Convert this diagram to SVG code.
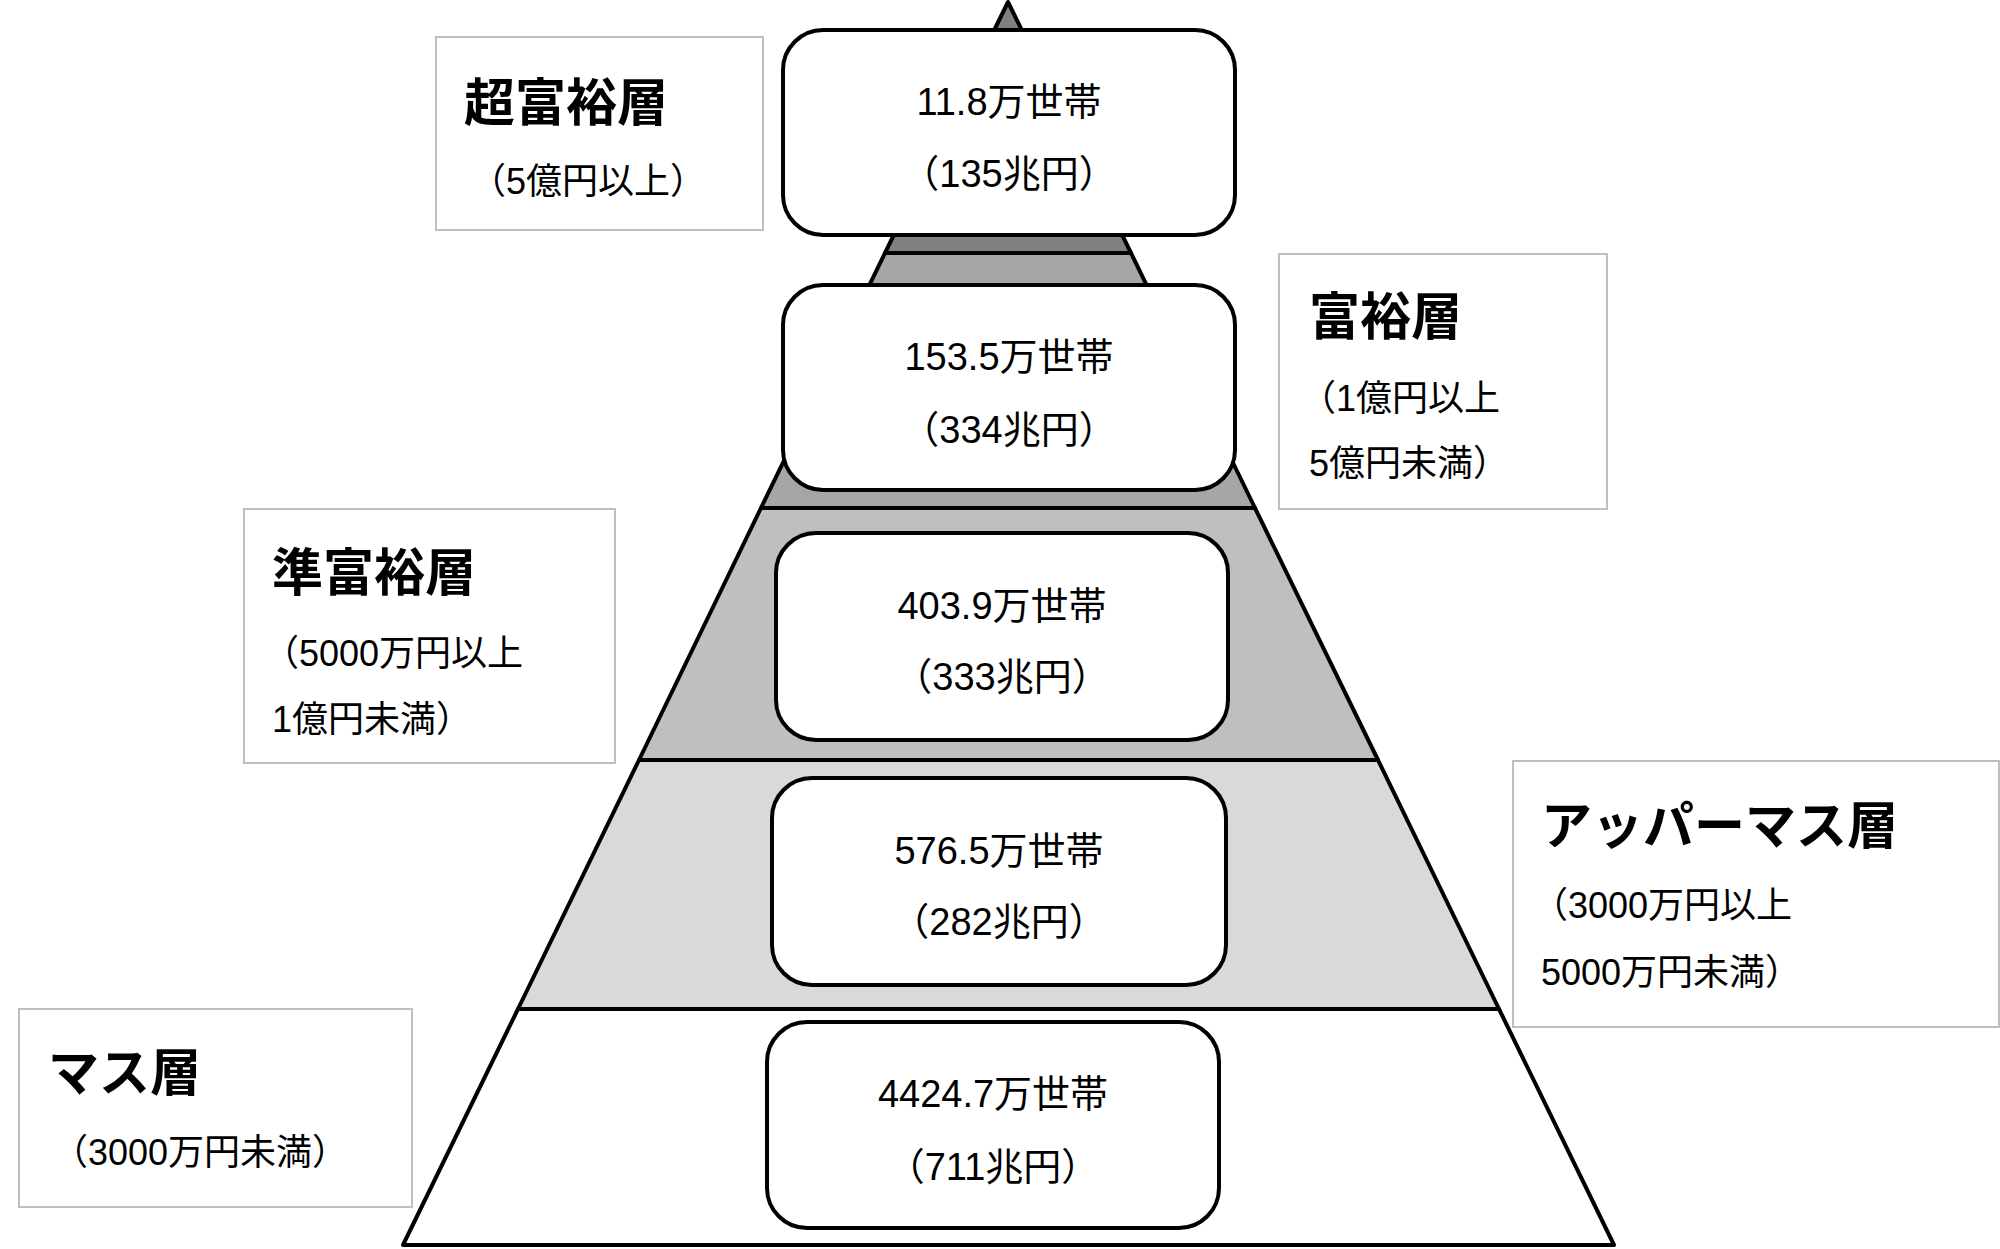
<svg xmlns="http://www.w3.org/2000/svg" width="2000" height="1249" viewBox="0 0 2000 1249">
<style>
.t{stroke:#000;stroke-width:4;stroke-linejoin:round}
.n{fill:#fff;stroke:#000;stroke-width:4}
.l{fill:#fff;stroke:#bfbfbf;stroke-width:2}
text{font-family:"Liberation Sans","Noto Sans CJK JP",sans-serif;fill:#000}
.h{font-size:51px;font-weight:bold}
.s{font-size:36px}
.v{font-size:38px;text-anchor:middle}
</style>
<rect width="2000" height="1249" fill="#fff"/>
<g id="pyramid">
<polygon class="t" fill="#808080" points="1008,2 885,253 1131,253"/>
<polygon class="t" fill="#a6a6a6" points="885,253 1131,253 1255,508 761,508"/>
<polygon class="t" fill="#bfbfbf" points="761,508 1255,508 1378,760 639,760"/>
<polygon class="t" fill="#d9d9d9" points="639,760 1378,760 1499,1009 518,1009"/>
<polygon class="t" fill="#fff" points="518,1009 1499,1009 1614,1245 403,1245"/>
</g>
<g id="node1"><rect class="n" x="783" y="30" width="452" height="205" rx="40"/><text class="v" x="1009" y="115">11.8万世帯</text><text class="v" x="1009" y="187">（135兆円）</text></g>
<g id="node2"><rect class="n" x="783" y="285" width="452" height="205" rx="40"/><text class="v" x="1009" y="370">153.5万世帯</text><text class="v" x="1009" y="443">（334兆円）</text></g>
<g id="node3"><rect class="n" x="776" y="533" width="452" height="207" rx="40"/><text class="v" x="1002" y="619">403.9万世帯</text><text class="v" x="1002" y="690">（333兆円）</text></g>
<g id="node4"><rect class="n" x="772" y="778" width="454" height="207" rx="40"/><text class="v" x="999" y="864">576.5万世帯</text><text class="v" x="999" y="935">（282兆円）</text></g>
<g id="node5"><rect class="n" x="767" y="1022" width="452" height="206" rx="40"/><text class="v" x="993" y="1107">4424.7万世帯</text><text class="v" x="993" y="1180">（711兆円）</text></g>
<g id="label1"><rect class="l" x="436" y="37" width="327" height="193"/><text class="h" x="464" y="121">超富裕層</text><text class="s" x="470" y="194">（5億円以上）</text></g>
<g id="label2"><rect class="l" x="1279" y="254" width="328" height="255"/><text class="h" x="1309" y="335">富裕層</text><text class="s" x="1300" y="411">（1億円以上</text><text class="s" x="1309" y="476">5億円未満）</text></g>
<g id="label3"><rect class="l" x="244" y="509" width="371" height="254"/><text class="h" x="272" y="591">準富裕層</text><text class="s" x="263" y="666">（5000万円以上</text><text class="s" x="272" y="732">1億円未満）</text></g>
<g id="label4"><rect class="l" x="1513" y="761" width="486" height="266"/><text class="h" x="1541" y="844">アッパーマス層</text><text class="s" x="1532" y="918">（3000万円以上</text><text class="s" x="1541" y="985">5000万円未満）</text></g>
<g id="label5"><rect class="l" x="19" y="1009" width="393" height="198"/><text class="h" x="48" y="1091">マス層</text><text class="s" x="52" y="1165">（3000万円未満）</text></g>
<g id="connectors"/>
</svg>
